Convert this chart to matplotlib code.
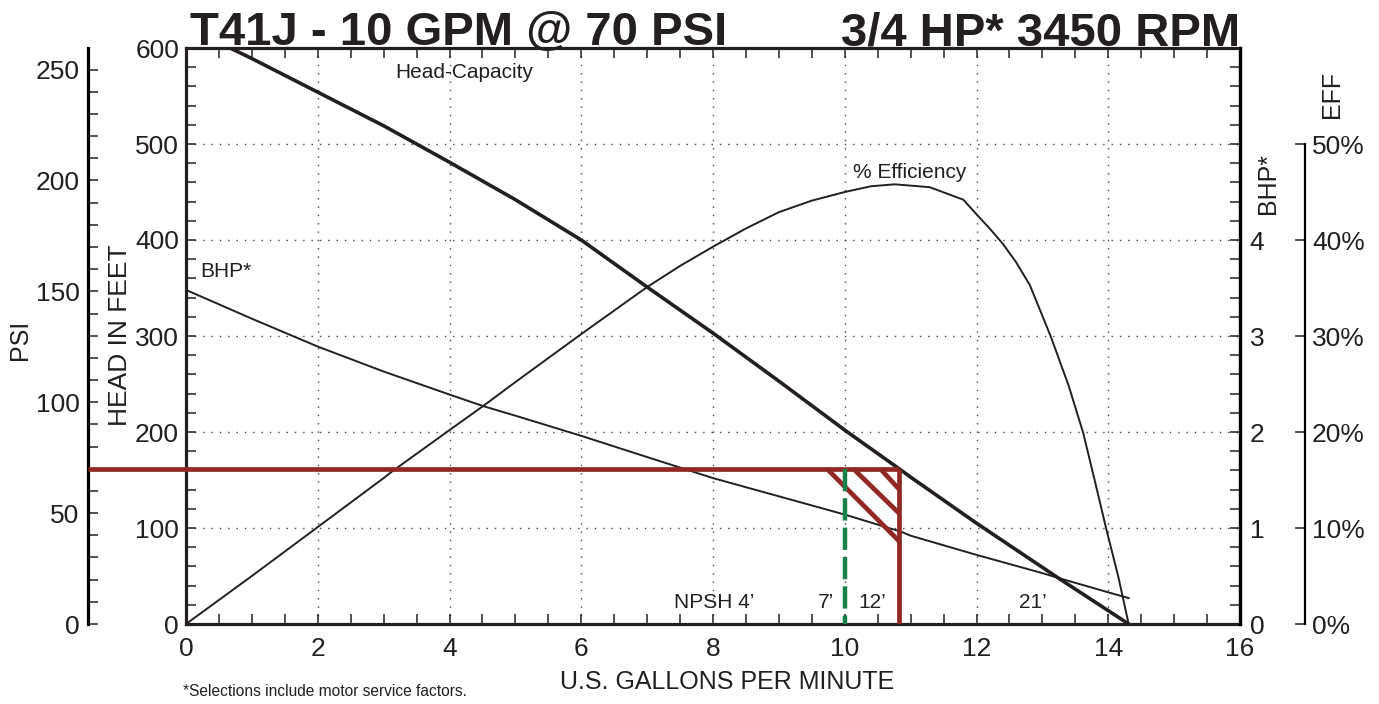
import numpy as np
import matplotlib
matplotlib.use("Agg")
import matplotlib.pyplot as plt
from matplotlib.ticker import MultipleLocator, FuncFormatter

plt.rcParams['font.family'] = ['Liberation Sans', 'DejaVu Sans']

# --- data ---
# head-capacity curve (GPM, feet)
head_gpm = [0, 0.67, 1, 2, 3, 4, 5, 6, 7, 8, 9, 10, 10.86, 11, 12, 13, 13.24, 14.31]
head_ft = [623, 600, 589, 554, 519, 481, 442, 400, 351, 303, 253, 202, 160, 153, 105, 59, 48, 0]

# efficiency curve (GPM, %)
eff_gpm = [0, 1, 2, 3, 3.15, 4, 4.51, 5, 6, 7, 7.5, 8, 8.5, 9, 9.5, 10, 10.4, 10.76,
           11.29, 11.8, 12.01, 12.2, 12.4, 12.6, 12.81, 13.0, 13.13, 13.4, 13.62, 13.8,
           13.97, 14.15, 14.31]
eff_pct = [0, 5.0, 10.1, 15.2, 16.0, 20.2, 22.7, 25.2, 30.2, 35.1, 37.3, 39.3, 41.2,
           42.9, 44.1, 45.0, 45.6, 45.8, 45.5, 44.2, 42.6, 41.2, 39.6, 37.7,
           35.3, 32.1, 29.9, 24.8, 19.9, 14.8, 9.9, 5.0, 0]

# brake horsepower curve (GPM, BHP)
bhp_gpm = [0, 1, 2, 3, 4, 4.51, 5, 6, 7.04, 8, 9, 10, 10.86, 11, 11.6, 12, 13, 13.24, 14, 14.31]
bhp_val = [3.48, 3.18, 2.89, 2.63, 2.39, 2.27, 2.17, 1.96, 1.73, 1.52, 1.33, 1.14, 0.96,
           0.92, 0.80, 0.72, 0.53, 0.48, 0.33, 0.27]

# operating point / NPSH zone
op_psi = 70
ft_per_psi = 2.31
op_gpm = 10.83
rated_gpm = 10
hatch_start_gpm = [9.73, 10.13, 10.54]
hatch_end_ft = [86, 115, 140]
npsh_labels = ["NPSH 4\u2019", "7\u2019", "12\u2019", "21\u2019"]
npsh_gpm = [8.63, 9.72, 10.42, 12.85]

title_left = "T41J - 10 GPM @ 70 PSI"
title_right = "3/4 HP* 3450 RPM"

BLACK = '#231f20'
RED = '#922824'
GREEN = '#17804b'

W, H = 1379, 704
fig = plt.figure(figsize=(W / 100, H / 100), dpi=100)
ax = fig.add_axes([186 / W, 80 / H, 1054 / W, 576 / H])
ax.set_xlim(0, 16)
ax.set_ylim(0, 600)
ax.xaxis.set_major_locator(MultipleLocator(2))
ax.xaxis.set_minor_locator(MultipleLocator(0.5))
ax.yaxis.set_major_locator(MultipleLocator(100))
ax.yaxis.set_minor_locator(MultipleLocator(20))
ax.tick_params(which='both', direction='in', top=True, right=False, length=7,
               width=1.1, color=BLACK, labelsize=19, labelcolor=BLACK)
ax.tick_params(axis='x', pad=9)
ax.tick_params(axis='y', pad=5)
for s in ax.spines.values():
    s.set_linewidth(2.3)
    s.set_color(BLACK)
ax.grid(True, which='major', linestyle=(0, (1, 5)), color='#444444', linewidth=1.0)
ax.set_axisbelow(True)

# BHP axis on the right spine
ax_bhp = ax.twinx()
ax_bhp.set_ylim(0, 6)
ax_bhp.yaxis.set_major_locator(MultipleLocator(1))
ax_bhp.yaxis.set_minor_locator(MultipleLocator(0.2))
ax_bhp.yaxis.set_major_formatter(FuncFormatter(lambda v, _: f'{v:.0f}' if v <= 4 else ''))
ax_bhp.tick_params(which='both', direction='in', length=7, width=1.1, color=BLACK,
                   labelsize=19, labelcolor=BLACK, pad=7)
for k in ['left', 'top', 'bottom']:
    ax_bhp.spines[k].set_visible(False)
ax_bhp.spines['right'].set_linewidth(2.3)

# EFF axis further right
ax_eff = ax.twinx()
ax_eff.set_ylim(0, 60)
ax_eff.spines['right'].set_position(('axes', (1305 - 186) / 1054))
ax_eff.spines['right'].set_bounds(0, 50)
ax_eff.spines['right'].set_linewidth(1.6)
for k in ['left', 'top', 'bottom']:
    ax_eff.spines[k].set_visible(False)
ax_eff.set_yticks(np.arange(0, 51, 10))
ax_eff.yaxis.set_major_formatter(FuncFormatter(lambda v, _: f'{v:.0f}%'))
ax_eff.tick_params(direction='in', length=7, width=1.1, color=BLACK, labelsize=19,
                   labelcolor=BLACK, pad=5)

# PSI axis further left
psi_off = (88 - 186) / 1054
ax_psi = ax.twinx()
ax_psi.set_ylim(0, 600 / ft_per_psi)
ax_psi.yaxis.tick_left()
ax_psi.spines['left'].set_position(('axes', psi_off))
ax_psi.spines['left'].set_linewidth(2.3)
for k in ['right', 'top', 'bottom']:
    ax_psi.spines[k].set_visible(False)
ax_psi.yaxis.set_major_locator(MultipleLocator(50))
ax_psi.yaxis.set_minor_locator(MultipleLocator(10))
ax_psi.tick_params(which='both', direction='in', length=7, width=1.1, color=BLACK,
                   labelsize=19, labelcolor=BLACK, pad=6)

# curves
ax.plot(head_gpm, head_ft, color=BLACK, lw=2.6, solid_joinstyle='round', zorder=3)
ax_eff.plot(eff_gpm, eff_pct, color=BLACK, lw=1.4, solid_joinstyle='round', zorder=3)
ax_bhp.plot(bhp_gpm, bhp_val, color=BLACK, lw=1.4, solid_joinstyle='round', zorder=3)

# operating point lines
ax_psi.plot([psi_off * 16, op_gpm], [op_psi, op_psi], color=RED, lw=3.4,
            clip_on=False, zorder=5, solid_capstyle='butt')
ax_psi.plot([op_gpm, op_gpm], [op_psi, 0], color=RED, lw=3.4, zorder=5,
            solid_capstyle='butt')
for x0, y1 in zip(hatch_start_gpm, hatch_end_ft):
    ax_psi.plot([x0, op_gpm], [op_psi, y1 / ft_per_psi], color=RED, lw=3.4, zorder=5,
                solid_capstyle='butt')
ax_psi.plot([rated_gpm, rated_gpm], [op_psi, 0], color=GREEN, lw=3.2,
            dashes=(5, 1.6), zorder=6)
ax_psi.set_xlim(0, 16)

# text
txt = dict(color=BLACK, fontsize=15)
ax.text(3.17, 575, "Head-Capacity", va='center', **txt)
ax.text(10.12, 470, "% Efficiency", va='center', **txt)
ax.text(0.21, 367, "BHP*", va='center', **txt)
for lab, g in zip(npsh_labels, npsh_gpm):
    ax.text(g, 22, lab, ha='right' if lab.startswith('NPSH') else 'center',
            va='center', **txt)

fig.text(190 / W, 1 - 45 / H, title_left, fontsize=34, fontweight='bold',
         va='baseline', ha='left', color=BLACK)
fig.text(1240 / W, 1 - 45 / H, title_right, fontsize=34, fontweight='bold',
         va='baseline', ha='right', color=BLACK)
fig.text(20 / W, 1 - 340 / H, "PSI", rotation=90, ha='center', va='center',
         fontsize=18, color=BLACK)
fig.text(120 / W, 1 - 335 / H, "HEAD IN FEET", rotation=90, ha='center', va='center',
         fontsize=19, color=BLACK)
fig.text(1268 / W, 1 - 183 / H, "BHP*", rotation=90, ha='center', va='center',
         fontsize=18, color=BLACK)
fig.text(1332 / W, 1 - 94 / H, "EFF", rotation=90, ha='center', va='center',
         fontsize=18, color=BLACK)
fig.text(727 / W, 1 - 682 / H, "U.S. GALLONS PER MINUTE", ha='center', va='center',
         fontsize=18, color=BLACK)
fig.text(183 / W, 1 - 692 / H, "*Selections include motor service factors.",
         ha='left', va='center', fontsize=11.2, color=BLACK)

fig.savefig("out.png", dpi=100)
